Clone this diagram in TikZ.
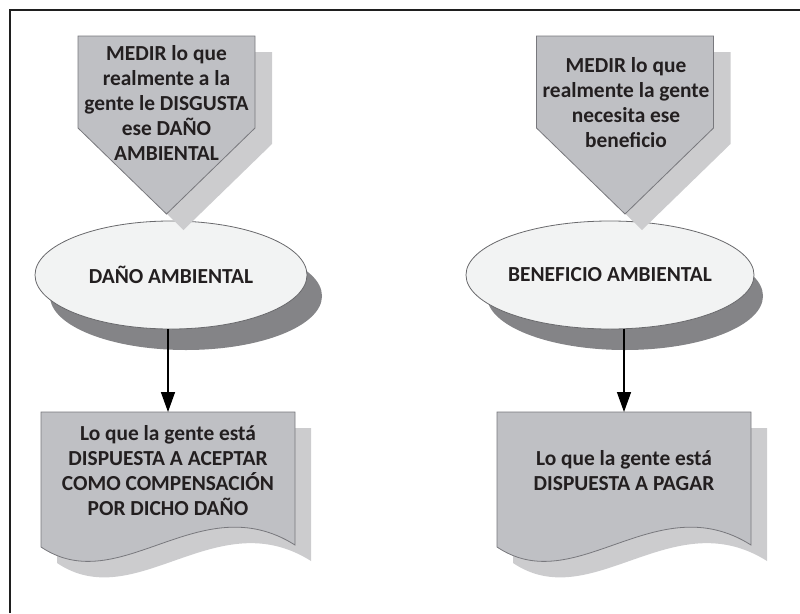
\documentclass[tikz,border=0pt]{standalone}
\usepackage{fontspec}
\setmainfont{Carlito}
\usetikzlibrary{arrows.meta,calc,shapes.geometric}
\definecolor{boxfill}{RGB}{191,192,196}
\definecolor{boxline}{RGB}{120,120,125}
\definecolor{boxshadow}{RGB}{204,204,206}
\definecolor{ellfill}{RGB}{242,243,243}
\definecolor{ellline}{RGB}{105,105,108}
\definecolor{ellshadow}{RGB}{132,132,135}
\definecolor{txt}{RGB}{35,31,32}
\tikzset{
  lbl/.style={font=\bfseries\fontsize{21.4}{25}\selectfont, text=txt, align=center, inner sep=0pt},
  boxstyle/.style={fill=boxfill, draw=boxline, line width=0.8pt},
  shadowstyle/.style={fill=boxshadow},
  ellnode/.style={ellipse, fill=ellfill, draw=ellline, line width=0.8pt, minimum width=272pt, minimum height=108pt, inner sep=0pt, font=\bfseries\fontsize{21.4}{25}\selectfont, text=txt},
  docnode/.style={lbl, minimum width=254pt, minimum height=116pt, anchor=north},
  conn/.style={line width=1.5pt, draw=black, -{Triangle[length=20pt,width=14pt]}},
  pics/pentarrow/.style={code={
    \fill[shadowstyle] (-71.5,16) -- (105.5,16) -- (105.5,108) -- (17,194) -- (-71.5,108) -- cycle;
    \draw[boxstyle] (-88.5,0) -- (88.5,0) -- (88.5,92) -- (0,178) -- (-88.5,92) -- cycle;
  }},
  pics/docshape/.style={code={
    \fill[shadowstyle] (16,16) -- (270,16) -- (270,149) .. controls (175,89) and (95,204) .. (16,151) -- cycle;
    \draw[boxstyle] (0,0) -- (254,0) -- (254,133) .. controls (159,73) and (79,188) .. (0,135) -- cycle;
  }}
}
\begin{document}
\begin{tikzpicture}[x=1pt,y=-1pt]
\useasboundingbox (0,0) rectangle (800,613);
\draw[line width=2pt, draw=black!88] (10,613) -- (10,10) -- (800,10);

% ellipses with shadows
\fill[ellshadow] (186,296) ellipse [x radius=136pt, y radius=54pt];
\fill[ellshadow] (625,296) ellipse [x radius=138pt, y radius=54pt];
\node[ellnode] (e1) at (171,275) {DAÑO AMBIENTAL};
\node[ellnode, minimum width=276pt] (e2) at (610,275) {BENEFICIO AMBIENTAL};

% pentagon arrows
\pic at (166.5,36) {pentarrow};
\pic at (625,36) {pentarrow};
\node[lbl] (t1) at (166.5,103) {MEDIR lo que\\realmente a la\\gente le DISGUSTA\\ese DAÑO\\AMBIENTAL};
\node[lbl] (t2) at (626,103) {MEDIR lo que\\realmente la gente\\necesita ese\\beneficio};

% documents
\pic at (41,412) {docshape};
\pic at (497,412) {docshape};
\node[docnode] (d1) at (168,412) {Lo que la gente está\\DISPUESTA A ACEPTAR\\COMO COMPENSACIÓN\\POR DICHO DAÑO};
\node[docnode] (d2) at (624,412) {Lo que la gente está\\DISPUESTA A PAGAR};

% connectors
\draw[conn] (d1.north |- e1.south) -- (d1.north);
\draw[conn] (d2.north |- e2.south) -- (d2.north);
\end{tikzpicture}
\end{document}
